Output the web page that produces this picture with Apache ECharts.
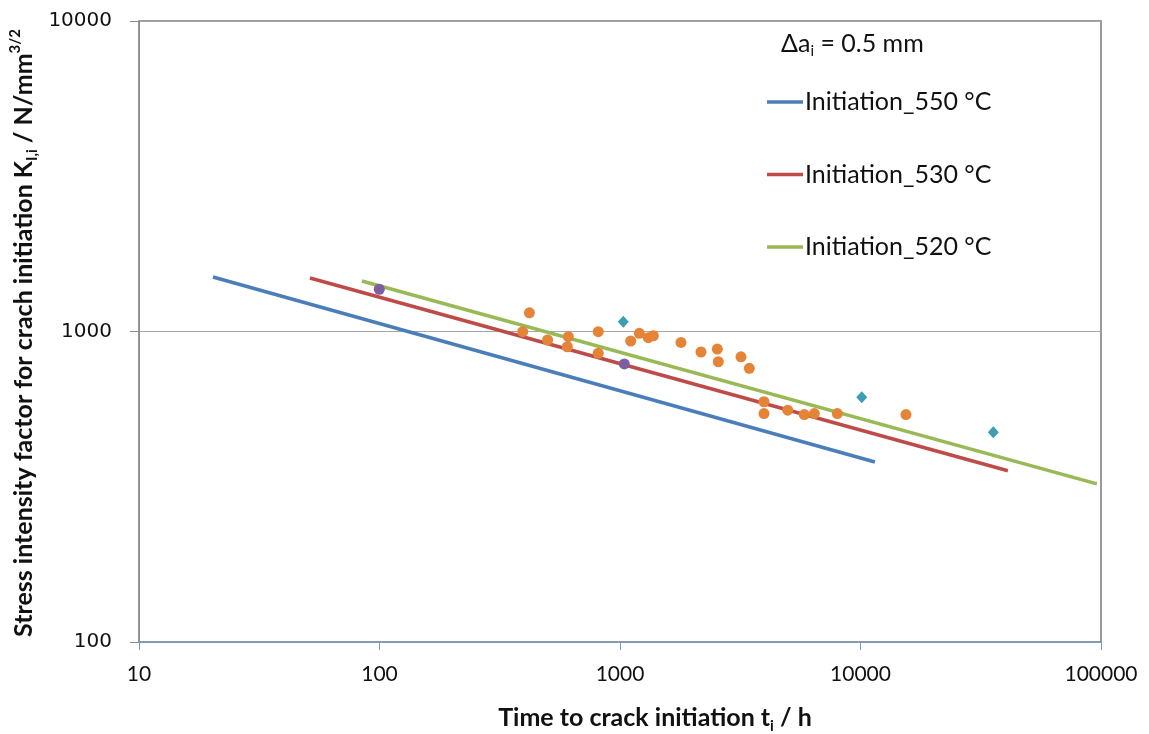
<!DOCTYPE html>
<html><head><meta charset="utf-8">
<script src="https://cdn.jsdelivr.net/npm/echarts/dist/echarts.min.js"></script>
<style>html,body{margin:0;padding:0;background:#fff}#c{width:1149px;height:734px}</style>
</head><body><div id="c"></div>
<script>
// Fitted initiation lines (endpoints, log-log straight lines)
const line550 = [[20.3, 1498], [11480, 380]];
const line530 = [[51.4, 1487], [41000, 356]];
const line520 = [[84.5, 1454], [96100, 323]];
// Measured points
const orangePts = [
  [420, 1149], [394, 999], [500, 939], [610, 962], [604, 893],
  [812, 999], [812, 851], [1108, 932], [1203, 987], [1311, 955],
  [1376, 969], [1793, 922], [2172, 859], [2539, 878], [2563, 799],
  [3185, 829], [3448, 761], [3970, 594], [3970, 544], [4981, 558],
  [5839, 540], [6427, 544], [8010, 544], [15460, 540]
];
const purplePts = [[99.8, 1368], [1042, 786]];
const tealPts = [[1032, 1075], [10120, 614], [35660, 474]];
const seriesNames = ['Initiation_550 °C', 'Initiation_530 °C', 'Initiation_520 °C'];
const xRange = [10, 100000];
const yRange = [100, 10000];

const FONT = 'Lato, "Open Sans", sans-serif';
const chart = echarts.init(document.getElementById('c'), null, {renderer: 'canvas'});
chart.setOption({
  animation: false,
  backgroundColor: '#fff',
  grid: {left: 139, right: 48, top: 21, bottom: 92, show: true, borderColor: '#7a7a7a', borderWidth: 1.5, containLabel: false},
  title: {
    left: 781, top: 29, padding: 0,
    text: '{a|Δa}{s|i}{a| = 0.5 mm}',
    textStyle: {
      fontWeight: 'normal',
      rich: {
        a: {fontFamily: FONT, fontWeight: 'normal', fontSize: 25, color: '#111', lineHeight: 30, verticalAlign: 'middle'},
        s: {fontFamily: FONT, fontWeight: 'normal', fontSize: 15, color: '#111', lineHeight: 15, verticalAlign: 'bottom'}
      }
    }
  },
  legend: {
    left: 767, top: 88, orient: 'vertical', itemGap: 44.5, padding: 0,
    data: seriesNames, icon: 'rect', itemWidth: 36, itemHeight: 3.5,
    textStyle: {fontFamily: FONT, fontSize: 25, color: '#111', lineHeight: 28, padding: [0, 0, 0, -3]}
  },
  xAxis: {
    type: 'log', logBase: 10, min: xRange[0], max: xRange[1],
    axisLine: {show: true, lineStyle: {color: '#6f9bd1', width: 1}},
    axisTick: {show: true, length: 8, lineStyle: {color: '#6f9bd1'}},
    minorTick: {show: false},
    splitLine: {show: false},
    axisLabel: {fontFamily: FONT, fontSize: 21, color: '#111', margin: 22, formatter: v => String(Math.round(v))}
  },
  yAxis: {
    type: 'log', logBase: 10, min: yRange[0], max: yRange[1],
    axisLine: {show: true, lineStyle: {color: '#8c8c8c', width: 1}},
    axisTick: {show: true, length: 9, lineStyle: {color: '#8c8c8c'}},
    splitLine: {show: true, lineStyle: {color: '#a6a6a6', width: 1.2}},
    axisLabel: {fontFamily: '"DejaVu Sans", sans-serif', fontSize: 20, color: '#111', margin: 27, formatter: v => String(Math.round(v))}
  },
  graphic: [
    {
      type: 'text', z: 100, x: 655, y: 718,
      style: {
        text: '{b|Time to crack initiation t}{s|i}{b| / h}',
        align: 'center', verticalAlign: 'middle',
        rich: {
          b: {fontFamily: FONT, fontWeight: 'bold', fontSize: 25, fill: '#111', lineHeight: 32, verticalAlign: 'middle'},
          s: {fontFamily: FONT, fontWeight: 'bold', fontSize: 15, fill: '#111', lineHeight: 15, verticalAlign: 'bottom'}
        }
      }
    },
    {
      type: 'text', z: 100,
      x: 24, y: 333, rotation: Math.PI / 2,
      style: {
        text: '{b|Stress intensity factor for crach initiation K}{s|I,i}{b| / N/mm}{p|3/2}',
        align: 'center', verticalAlign: 'middle',
        rich: {
          b: {fontFamily: FONT, fontWeight: 'bold', fontSize: 25, fill: '#111', lineHeight: 32, verticalAlign: 'middle'},
          s: {fontFamily: FONT, fontWeight: 'bold', fontSize: 15, fill: '#111', lineHeight: 15, verticalAlign: 'bottom'},
          p: {fontFamily: FONT, fontWeight: 'bold', fontSize: 15, fill: '#111', lineHeight: 15, verticalAlign: 'top'}
        }
      }
    }
  ],
  series: [
    {name: seriesNames[0], type: 'line', data: line550, symbol: 'none', lineStyle: {color: '#4a7ebb', width: 3.5}, itemStyle: {color: '#4a7ebb'}, z: 2},
    {name: seriesNames[1], type: 'line', data: line530, symbol: 'none', lineStyle: {color: '#be4b48', width: 3.5}, itemStyle: {color: '#be4b48'}, z: 2},
    {name: seriesNames[2], type: 'line', data: line520, symbol: 'none', lineStyle: {color: '#98b954', width: 3.5}, itemStyle: {color: '#98b954'}, z: 2},
    {name: 'orange', type: 'scatter', data: orangePts, symbol: 'circle', symbolSize: 11, itemStyle: {color: '#e58337', opacity: 1}, z: 3},
    {name: 'purple', type: 'scatter', data: purplePts, symbol: 'circle', symbolSize: 11, itemStyle: {color: '#7d5ea0', opacity: 1}, z: 3},
    {name: 'teal', type: 'scatter', data: tealPts, symbol: 'diamond', symbolSize: [11, 12], itemStyle: {color: '#3d9db5', opacity: 1}, z: 3}
  ]
});
</script>
</body></html>
